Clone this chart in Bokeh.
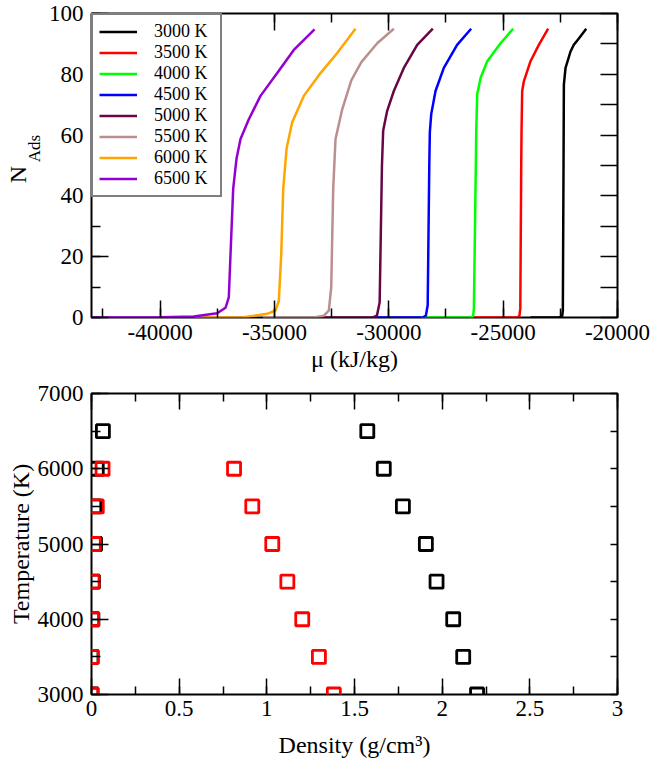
from bokeh.plotting import figure
from bokeh.models import (Range1d, LinearAxis, SingleIntervalTicker, FixedTicker, CustomJSTickFormatter,
                          Legend, LegendItem)
from bokeh.layouts import column
from bokeh.embed import file_html
from bokeh.resources import INLINE

# ---------------- data: adsorption isotherms ----------------
temp_labels = ["3000 K", "3500 K", "4000 K", "4500 K", "5000 K", "5500 K", "6000 K", "6500 K"]
colors = ["#000000", "#ff0000", "#00ff00", "#0000ff", "#670748", "#bc8f8f", "#ffa500", "#9400d3"]

mu_3000 = [-23800, -22550, -22420, -22390, -22360, -22345, -22272, -22054, -21909, -21690, -21367]
n_3000 = [0, 0, 0.5, 2.3, 50, 76.6, 82.1, 87.5, 89.7, 91.8, 95]

mu_3500 = [-26500, -24400, -24290, -24250, -24210, -24197, -24168, -24095, -23803, -23440, -23032]
n_3500 = [0, 0, 0.5, 3, 50, 60.9, 74.5, 77.7, 84.3, 89.7, 95]

mu_4000 = [-28600, -26420, -26310, -26280, -26195, -26178, -26134, -25988, -25696, -25114, -24564]
n_4000 = [0, 0, 0.5, 3, 50, 60.9, 73.4, 78.8, 84.3, 90.2, 95]

mu_4500 = [-30800, -28520, -28380, -28300, -28230, -28206, -28145, -27957, -27594, -27013, -26400]
n_4500 = [0, 0, 0.6, 4, 50, 60.9, 66.9, 74.5, 82.1, 89.7, 95]

mu_5000 = [-33000, -30700, -30520, -30400, -30300, -30246, -30071, -29780, -29343, -28757, -28075]
n_5000 = [0, 0, 0.6, 5, 50, 61.5, 68, 74.5, 82.1, 89.7, 95]

mu_5500 = [-35500, -33300, -32842, -32623, -32518, -32431, -32330, -32037, -31640, -31200, -30506, -29780]
n_5500 = [0, 0, 0.6, 2.3, 9.9, 42.4, 58.7, 68.5, 78, 84, 90.2, 95]

mu_6000 = [-38500, -36340, -35318, -34954, -34808, -34704, -34616, -34472, -34224, -33716, -32986, -32256, -31455]
n_6000 = [0, 0.1, 1.2, 2.3, 5.5, 20.7, 42.4, 55.5, 64.2, 72.9, 80.4, 87, 95]

mu_6500 = [-43000, -40000, -38526, -37507, -37140, -36996, -36922, -36804, -36660, -36484, -36121, -35610, -34880, -34153, -33248]
n_6500 = [0, 0.05, 0.3, 1.4, 3.2, 6.6, 20.7, 42.4, 52.2, 58.7, 65.2, 72.9, 80.4, 88, 94.8]

mu_series = [mu_3000, mu_3500, mu_4000, mu_4500, mu_5000, mu_5500, mu_6000, mu_6500]
n_series = [n_3000, n_3500, n_4000, n_4500, n_5000, n_5500, n_6000, n_6500]

# ---------------- data: coexistence densities ----------------
temps_black = [3000, 3500, 4000, 4500, 5000, 5500, 6000, 6500]
dens_black_low = [0.0, 0.0, 0.005, 0.008, 0.02, 0.016, 0.03, 0.065]
dens_black_high = [2.199, 2.120, 2.063, 1.968, 1.907, 1.776, 1.667, 1.573]

temps_red = [3000, 3500, 4000, 4500, 5000, 5500, 6000]
dens_red_low = [0.0, 0.002, 0.004, 0.006, 0.013, 0.03, 0.063]
dens_red_high = [1.382, 1.297, 1.202, 1.117, 1.031, 0.917, 0.813]

FONT = "Liberation Serif"
TICK_SIZE = "23px"
LABEL_SIZE = "24px"
NBSP = "\u00a0"

fmt_code = "return String(Math.round(tick*1000)/1000);"


def style_axis(ax, major_in, minor_in, labels=True, standoff=8):
    ax.axis_line_color = None
    ax.major_tick_in = major_in
    ax.major_tick_out = 0
    ax.minor_tick_in = minor_in
    ax.minor_tick_out = 0
    ax.major_tick_line_color = "black"
    ax.minor_tick_line_color = "black"
    ax.major_tick_line_width = 1.5
    ax.minor_tick_line_width = 1.5
    ax.axis_label_text_font = FONT
    ax.axis_label_text_font_style = "normal"
    ax.axis_label_text_color = "black"
    ax.axis_label_text_font_size = LABEL_SIZE
    if labels:
        ax.formatter = CustomJSTickFormatter(code=fmt_code)
        ax.major_label_text_font = FONT
        ax.major_label_text_font_size = TICK_SIZE
        ax.major_label_text_color = "black"
        ax.major_label_standoff = standoff
    else:
        ax.formatter = CustomJSTickFormatter(code="return '';")
        ax.major_label_text_font_size = "0px"
        ax.major_label_standoff = 0


def label_axis(text, size, standoff):
    ax = LinearAxis(ticker=FixedTicker(ticks=[]), axis_label=text)
    style_axis(ax, 0, 0, labels=False)
    ax.axis_label_text_font_size = size
    ax.axis_label_standoff = standoff
    return ax


# ---------------- top figure ----------------
X0, X1, Y0, Y1 = -43000, -20000, 0, 100
p1 = figure(width=654, height=380, x_range=Range1d(X0, X1), y_range=Range1d(Y0, Y1),
            output_backend="svg", toolbar_location=None,
            min_border_left=91, min_border_right=37, min_border_top=13, min_border_bottom=63)
p1.grid.visible = False
p1.outline_line_color = "black"
p1.outline_line_width = 2
p1.background_fill_color = "white"

p1.xaxis[0].ticker = SingleIntervalTicker(interval=5000, num_minor_ticks=2)
p1.yaxis[0].ticker = SingleIntervalTicker(interval=20, num_minor_ticks=2)
style_axis(p1.xaxis[0], 17, 9, standoff=7)
style_axis(p1.yaxis[0], 17, 9, standoff=8)
p1.xaxis[0].axis_label = "μ (kJ/kg)"
p1.xaxis[0].axis_label_standoff = 3

top_ax = LinearAxis(ticker=SingleIntervalTicker(interval=5000, num_minor_ticks=2))
style_axis(top_ax, 17, 9, labels=False)
p1.add_layout(top_ax, "above")
right_ax = LinearAxis(ticker=SingleIntervalTicker(interval=10, num_minor_ticks=0))
style_axis(right_ax, 17, 0, labels=False)
p1.add_layout(right_ax, "right")

# y-axis title N with subscript "Ads", stacked as two tickless axis titles
p1.add_layout(label_axis(NBSP * 8 + "Ads", "17px", 2), "left")
p1.add_layout(label_axis("N" + NBSP * 3, LABEL_SIZE, -9), "left")

renderers = []
for mu, n, c in zip(mu_series, n_series, colors):
    r = p1.line(mu, n, line_color=c, line_width=2.5)
    renderers.append(r)

legend = Legend(items=[LegendItem(label=t, renderers=[r]) for t, r in zip(temp_labels, renderers)],
                location="top_left", margin=0, padding=6, spacing=0,
                glyph_width=38, glyph_height=21, label_height=21, label_width=60,
                label_standoff=17, label_text_font=FONT, label_text_font_size="18px",
                label_text_color="black",
                border_line_color="black", border_line_width=2,
                background_fill_color="white", background_fill_alpha=1.0)
p1.add_layout(legend)

# ---------------- bottom figure ----------------
BX0, BX1, BY0, BY1 = 0, 3, 3000, 7000
p2 = figure(width=654, height=384, x_range=Range1d(BX0, BX1), y_range=Range1d(BY0, BY1),
            output_backend="svg", toolbar_location=None,
            min_border_left=91, min_border_right=37, min_border_top=13, min_border_bottom=70)
p2.grid.visible = False
p2.outline_line_color = "black"
p2.outline_line_width = 2
p2.background_fill_color = "white"

p2.xaxis[0].ticker = SingleIntervalTicker(interval=0.5, num_minor_ticks=2)
p2.yaxis[0].ticker = SingleIntervalTicker(interval=1000, num_minor_ticks=2)
style_axis(p2.xaxis[0], 16, 8, standoff=6)
style_axis(p2.yaxis[0], 17, 9, standoff=8)
p2.xaxis[0].axis_label = "Density (g/cm³)"
p2.xaxis[0].axis_label_standoff = 13
p2.yaxis[0].axis_label = "Temperature (K)"
p2.yaxis[0].axis_label_standoff = 1

top_ax2 = LinearAxis(ticker=SingleIntervalTicker(interval=0.5, num_minor_ticks=2))
style_axis(top_ax2, 16, 8, labels=False)
p2.add_layout(top_ax2, "above")
right_ax2 = LinearAxis(ticker=SingleIntervalTicker(interval=500, num_minor_ticks=0))
style_axis(right_ax2, 7, 0, labels=False)
p2.add_layout(right_ax2, "right")

for xs, ys, c in [(dens_black_low, temps_black, "black"), (dens_black_high, temps_black, "black"),
                  (dens_red_low, temps_red, "#ff0000"), (dens_red_high, temps_red, "#ff0000")]:
    p2.scatter(xs, ys, marker="square", size=13, fill_color=None, line_color=c, line_width=2.8)

layout = column(p1, p2, spacing=0)
open("out.html", "w").write(file_html(layout, INLINE))
